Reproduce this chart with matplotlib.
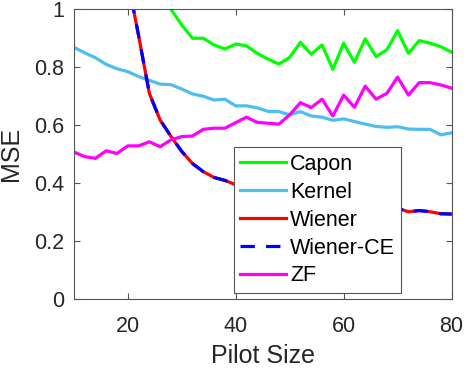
import numpy as np
import matplotlib
matplotlib.use('Agg')
from matplotlib import pyplot as plt

# pilot sizes 10..80 in steps of 2
pilot = [10, 12, 14, 16, 18, 20, 22, 24, 26, 28, 30, 32, 34, 36, 38, 40, 42, 44,
         46, 48, 50, 52, 54, 56, 58, 60, 62, 64, 66, 68, 70, 72, 74, 76, 78, 80]

capon = [1.6, 1.5, 1.42, 1.34, 1.27, 1.21, 1.16, 1.11, 1.06, 1.0, 0.946, 0.90,
         0.90, 0.877, 0.863, 0.88, 0.874, 0.848, 0.828, 0.811, 0.834, 0.886,
         0.845, 0.877, 0.793, 0.883, 0.817, 0.898, 0.837, 0.86, 0.926, 0.848,
         0.892, 0.883, 0.871, 0.852]

kernel = [0.869, 0.85, 0.833, 0.81, 0.795, 0.785, 0.768, 0.755, 0.742, 0.740,
          0.725, 0.708, 0.700, 0.687, 0.690, 0.667, 0.667, 0.660, 0.648, 0.647,
          0.636, 0.647, 0.632, 0.628, 0.617, 0.622, 0.613, 0.604, 0.596, 0.593,
          0.595, 0.587, 0.586, 0.586, 0.567, 0.574]

wiener = [3.0, 2.5, 2.0, 1.65, 1.35, 1.1, 0.91, 0.71, 0.618, 0.562, 0.51, 0.468,
          0.44, 0.42, 0.41, 0.395, 0.38, 0.37, 0.36, 0.352, 0.345, 0.34, 0.335,
          0.33, 0.326, 0.322, 0.32, 0.318, 0.316, 0.315, 0.314, 0.302, 0.306,
          0.302, 0.295, 0.294]

wiener_ce = list(wiener)

zf = [0.508, 0.492, 0.486, 0.512, 0.503, 0.529, 0.529, 0.543, 0.526, 0.55,
      0.561, 0.563, 0.586, 0.59, 0.59, 0.609, 0.628, 0.61, 0.607, 0.604, 0.636,
      0.678, 0.661, 0.69, 0.632, 0.704, 0.662, 0.735, 0.69, 0.71, 0.766, 0.704,
      0.747, 0.747, 0.739, 0.728]

plt.rcParams['font.family'] = ['Liberation Sans', 'DejaVu Sans']

fig = plt.figure(figsize=(4.67, 3.7), dpi=100)
ax = fig.add_axes([0.158, 0.191, 0.809, 0.784])

lw = 2.3
ax.plot(pilot, capon, color='#00ff00', lw=lw, label='Capon')
ax.plot(pilot, kernel, color='#4dbeee', lw=lw, label='Kernel')
ax.plot(pilot, wiener, color='#ff0000', lw=lw, label='Wiener')
ax.plot(pilot, wiener_ce, color='#0000ff', lw=lw, dashes=(4.5, 3.5), label='Wiener-CE')
ax.plot(pilot, zf, color='#ff00ff', lw=lw, label='ZF')

ax.set_xlim(10, 80)
ax.set_ylim(0, 1)
ax.set_xticks([20, 40, 60, 80])
ax.set_yticks([0, 0.2, 0.4, 0.6, 0.8, 1])
ax.set_yticklabels(['0', '0.2', '0.4', '0.6', '0.8', '1'])

ax.tick_params(direction='in', top=True, right=True, length=4, width=0.8,
               colors='#555555', labelcolor='#262626', labelsize=15.5)
ax.tick_params(axis='x', pad=12)
ax.tick_params(axis='y', pad=7)
for s in ax.spines.values():
    s.set_color('#555555')
    s.set_linewidth(0.8)

ax.set_xlabel('Pilot Size', fontsize=18, color='#262626', labelpad=5)
ax.set_ylabel('MSE', fontsize=18, color='#262626', labelpad=8)

leg = ax.legend(loc='lower left', bbox_to_anchor=(0.424, 0.022), borderaxespad=0,
                fontsize=15.5, handlelength=2.1, handletextpad=0.2,
                labelspacing=0.32, borderpad=0.3, fancybox=False, framealpha=1)
leg.get_frame().set_edgecolor('#555555')
leg.get_frame().set_linewidth(0.8)

fig.savefig('out.png', dpi=100)
